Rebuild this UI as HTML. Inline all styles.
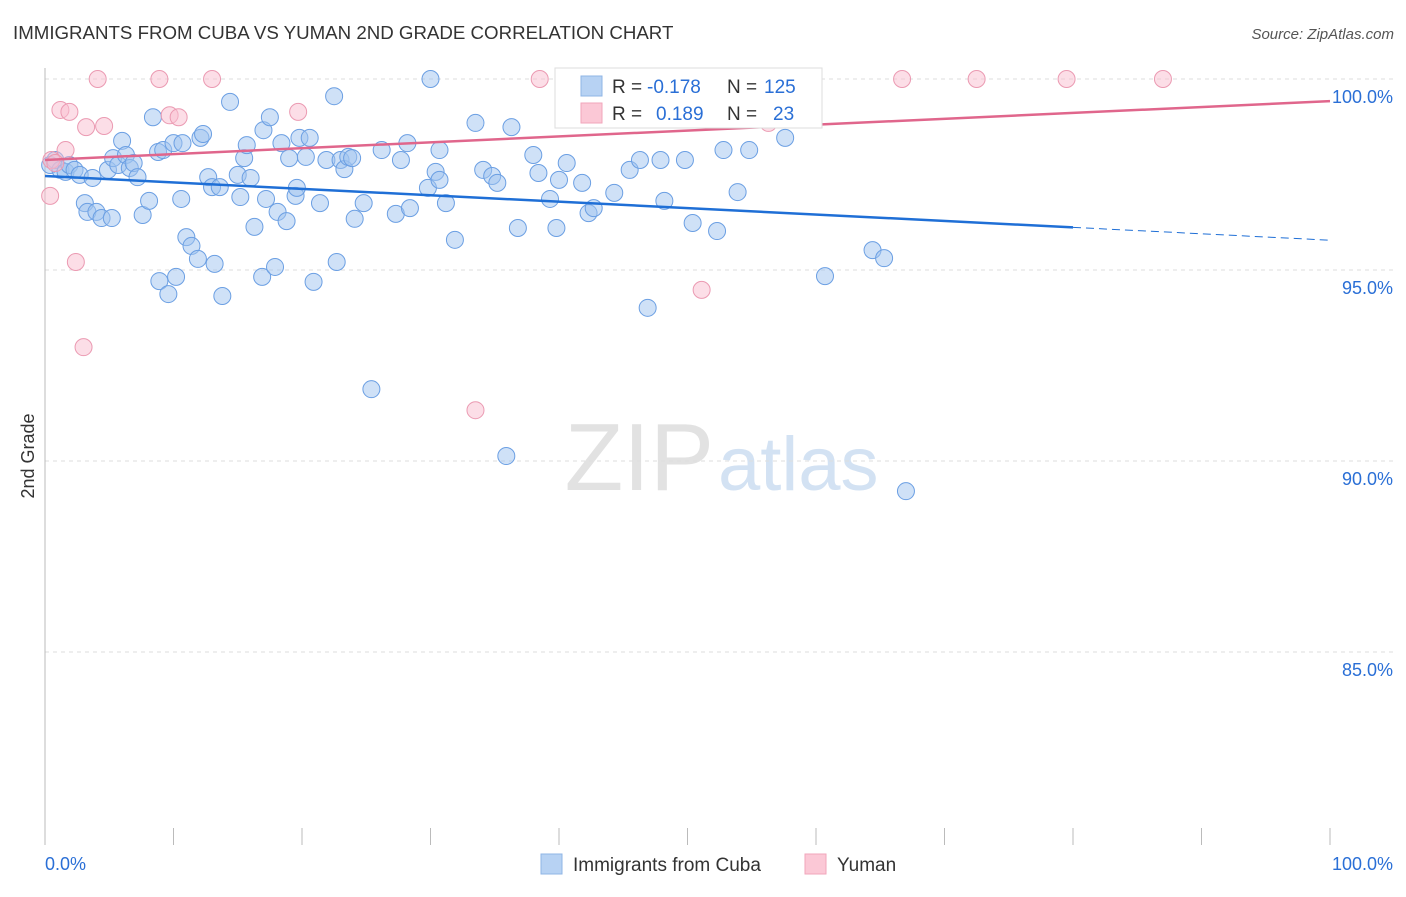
<!DOCTYPE html>
<html><head><meta charset="utf-8"><style>
body{margin:0;background:#fff;font-family:"Liberation Sans",sans-serif;}
svg text{font-family:"Liberation Sans",sans-serif;}
</style></head><body>
<svg id="chart" width="1406" height="892" xmlns="http://www.w3.org/2000/svg">
<text x="13" y="39" font-size="18.7" fill="#333">IMMIGRANTS FROM CUBA VS YUMAN 2ND GRADE CORRELATION CHART</text>
<text x="1394" y="39" font-size="15" fill="#555" text-anchor="end" font-style="italic">Source: ZipAtlas.com</text>
<text transform="translate(34,456) rotate(-90)" font-size="18" fill="#333" text-anchor="middle">2nd Grade</text>
<text x="714" y="490" font-size="96" fill="#e2e2e2" text-anchor="end" font-family="Liberation Serif">ZIP</text>
<text x="718" y="490" font-size="76" fill="#d3e2f3">atlas</text>
<g id="grid"></g><g id="axes"></g><g id="pts"></g><g id="trends"></g>
<g>
<rect x="555" y="68" width="267" height="60" fill="#fff" stroke="#ddd"/>
<rect x="581" y="76" width="21" height="20" fill="#b7d2f3" stroke="#8fb5e6"/>
<rect x="581" y="103" width="21" height="20" fill="#fbc8d6" stroke="#f2a6bb"/>
<text x="612" y="93" font-size="19" fill="#333">R = </text><text x="647" y="93" font-size="19" fill="#2a6fd6">-0.178</text>
<text x="727" y="93" font-size="19" fill="#333">N = </text><text x="764" y="93" font-size="19" fill="#2a6fd6">125</text>
<text x="612" y="120" font-size="19" fill="#333">R = </text><text x="656" y="120" font-size="19" fill="#2a6fd6">0.189</text>
<text x="727" y="120" font-size="19" fill="#333">N = </text><text x="773" y="120" font-size="19" fill="#2a6fd6">23</text>
</g>
<g>
<rect x="541" y="854" width="21" height="20" fill="#b7d2f3" stroke="#8fb5e6"/>
<text x="573" y="871" font-size="19" fill="#333">Immigrants from Cuba</text>
<rect x="805" y="854" width="21" height="20" fill="#fbc8d6" stroke="#f2a6bb"/>
<text x="837" y="871" font-size="19" fill="#333">Yuman</text>
</g>
<text x="45" y="870" font-size="18" fill="#2a6fd6">0.0%</text>
<text x="1393" y="870" font-size="18" fill="#2a6fd6" text-anchor="end">100.0%</text>
</svg>
<script>
const yTicks=[100,95,90,85];
const yTickLabels=["100.0%","95.0%","90.0%","85.0%"];
const xTicks=[0,10,20,30,40,50,60,70,80,90,100];
const cubaX=[0.4,0.8,1.2,1.6,1.9,2.3,2.7,3.1,3.3,3.7,4.0,4.4,4.9,5.2,5.3,5.7,6.0,6.3,6.6,6.9,7.2,7.6,8.1,8.4,8.8,8.9,9.2,9.6,10.0,10.2,10.6,10.7,11.0,11.4,11.9,12.1,12.3,12.7,13.0,13.2,13.6,13.8,14.4,15.0,15.2,15.5,15.7,16.0,16.3,16.9,17.0,17.2,17.5,17.9,18.1,18.4,18.8,19.0,19.5,19.6,19.8,20.3,20.6,20.9,21.4,22.5,21.9,22.7,23.0,23.3,23.6,23.9,24.1,24.8,25.4,26.2,27.3,27.7,28.2,28.4,30.0,29.8,30.4,30.7,30.7,31.2,31.9,33.5,34.1,34.8,35.2,35.9,36.3,36.8,38.0,38.4,39.3,39.8,40.0,40.6,41.8,42.3,42.7,44.3,45.5,46.3,46.9,47.9,48.2,49.8,50.4,52.3,52.8,53.9,54.8,57.0,57.6,60.7,64.4,65.3,67.0];
const cubaY=[97.75,97.88,97.62,97.57,97.75,97.62,97.49,96.75,96.52,97.41,96.52,96.36,97.62,96.36,97.93,97.75,98.38,98.01,97.67,97.8,97.43,96.44,96.81,99.0,98.09,94.71,98.14,94.37,98.32,94.82,96.86,98.32,95.86,95.63,95.29,98.46,98.56,97.43,97.17,95.16,97.17,94.32,99.4,97.49,96.91,97.93,98.27,97.41,96.13,94.82,98.66,96.86,99.0,95.08,96.52,98.32,96.28,97.93,96.94,97.15,98.46,97.96,98.46,94.69,96.75,99.55,97.88,95.21,97.88,97.64,97.96,97.93,96.34,96.75,91.88,98.14,96.47,97.88,98.32,96.62,100,97.15,97.57,97.36,98.14,96.75,95.79,98.85,97.62,97.46,97.28,90.13,98.74,96.1,98.01,97.54,96.86,96.1,97.36,97.8,97.28,96.49,96.62,97.02,97.62,97.88,94.01,97.88,96.81,97.88,96.23,96.02,98.14,97.04,98.14,100,98.46,94.84,95.52,95.31,89.21];
const yumanX=[0.4,0.5,0.8,1.2,1.6,1.9,2.4,3.0,3.2,4.1,4.6,8.9,9.7,10.4,13.0,19.7,33.5,38.5,51.1,56.3,66.7,72.5,79.5,87.0];
const yumanY=[96.94,97.88,97.8,99.19,98.14,99.14,95.21,92.98,98.74,100,98.77,100,99.05,99.0,100,99.14,91.33,100,94.48,98.85,100,100,100,100];
const cubaTrend=[97.46,95.78];const cubaTrendSolidEnd=80;
const yumanTrend=[97.88,99.42];
const X=v=>45+v*12.85, Y=v=>79+(100-v)*38.2;
const NS="http://www.w3.org/2000/svg";
function mk(t,a,p){const e=document.createElementNS(NS,t);for(const k in a)e.setAttribute(k,a[k]);document.getElementById(p).appendChild(e);return e;}
yTicks.forEach((t,i)=>{
 const l=mk('line',{x1:45,x2:1393,y1:Y(t),y2:Y(t),stroke:'#ddd','stroke-dasharray':'4,4'},'grid');
 
 
 const tx=mk('text',{x:1393,y:Y(t)+24,'font-size':18,fill:'#2a6fd6','text-anchor':'end'},'grid');tx.textContent=yTickLabels[i];
 
 
});
const ax=mk('line',{x1:45,x2:45,y1:68,y2:845,stroke:'#bbb'},'axes');


xTicks.forEach(t=>{const l=mk('line',{x1:X(t),x2:X(t),y1:828,y2:845,stroke:'#bbb'},'axes');
 
 });
cubaX.forEach((x,i)=>{const c=mk('circle',{cx:X(x),cy:Y(cubaY[i]),r:8.5,fill:'rgba(160,196,240,0.5)',stroke:'#6b9fe3','stroke-width':1},'pts');
 
 });
yumanX.forEach((x,i)=>{const c=mk('circle',{cx:X(x),cy:Y(yumanY[i]),r:8.5,fill:'rgba(250,190,208,0.5)',stroke:'#eb9ab2','stroke-width':1},'pts');
 
 });
const cy=v=>cubaTrend[0]+(cubaTrend[1]-cubaTrend[0])*v/100;
const b1=mk('line',{x1:X(0),y1:Y(cy(0)),x2:X(cubaTrendSolidEnd),y2:Y(cy(cubaTrendSolidEnd)),stroke:'#1f6fd6','stroke-width':2.5},'trends');


const b2=mk('line',{x1:X(cubaTrendSolidEnd),y1:Y(cy(cubaTrendSolidEnd)),x2:X(100),y2:Y(cy(100)),stroke:'#1f6fd6','stroke-width':1,'stroke-dasharray':'8,5'},'trends');


const p1=mk('line',{x1:X(0),y1:Y(yumanTrend[0]),x2:X(100),y2:Y(yumanTrend[1]),stroke:'#e0668c','stroke-width':2.5},'trends');


</script>
</body></html>
